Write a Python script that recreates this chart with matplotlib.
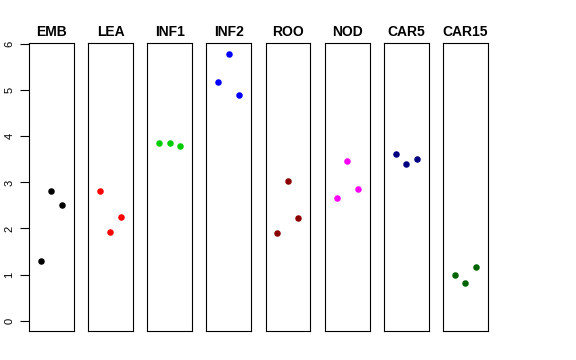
import matplotlib
matplotlib.use("Agg")
import matplotlib.pyplot as plt
import numpy as np

plt.rcParams["font.family"] = ["Liberation Sans", "DejaVu Sans"]

tissues = ["EMB", "LEA", "INF1", "INF2", "ROO", "NOD", "CAR5", "CAR15"]
colors = ["black", "red", "#00CD00", "blue", "#8B0000", "magenta", "#000080", "#006400"]
reps = [1, 2, 3]
emb = [1.29, 2.81, 2.52]
lea = [2.81, 1.92, 2.24]
inf1 = [3.85, 3.85, 3.80]
inf2 = [5.17, 5.79, 4.90]
roo = [1.90, 3.02, 2.22]
nod = [2.66, 3.46, 2.85]
car5 = [3.62, 3.41, 3.50]
car15 = [0.98, 0.82, 1.17]
values = [emb, lea, inf1, inf2, roo, nod, car5, car15]
yticks = [0, 1, 2, 3, 4, 5, 6]

fig = plt.figure(figsize=(5.76, 3.6), dpi=100)
left, bottom, top = 29 / 576, 1 - 330.7 / 360, 1 - 43.3 / 360
w, step = 44.8 / 576, 59.15 / 576
for i, (name, vals, col) in enumerate(zip(tissues, values, colors)):
    ax = fig.add_axes([left + i * step, bottom, w, top - bottom])
    ax.scatter(reps, vals, s=22, color=col, zorder=3, linewidths=0)
    ax.set_xlim(-0.13, 4.15)
    ax.set_ylim(-0.22, 6.02)
    ax.set_xticks([])
    ax.set_title(name, fontsize=10, fontweight="bold", pad=5)
    for sp in ax.spines.values():
        sp.set_linewidth(0.8)
    if i == 0:
        ax.set_yticks(yticks)
        ax.tick_params(axis="y", length=6.5, width=0.8, labelsize=8, pad=4)
        for lab in ax.get_yticklabels():
            lab.set_rotation(90)
            lab.set_va("center")
    else:
        ax.set_yticks([])

plt.savefig("out.png", dpi=100)
